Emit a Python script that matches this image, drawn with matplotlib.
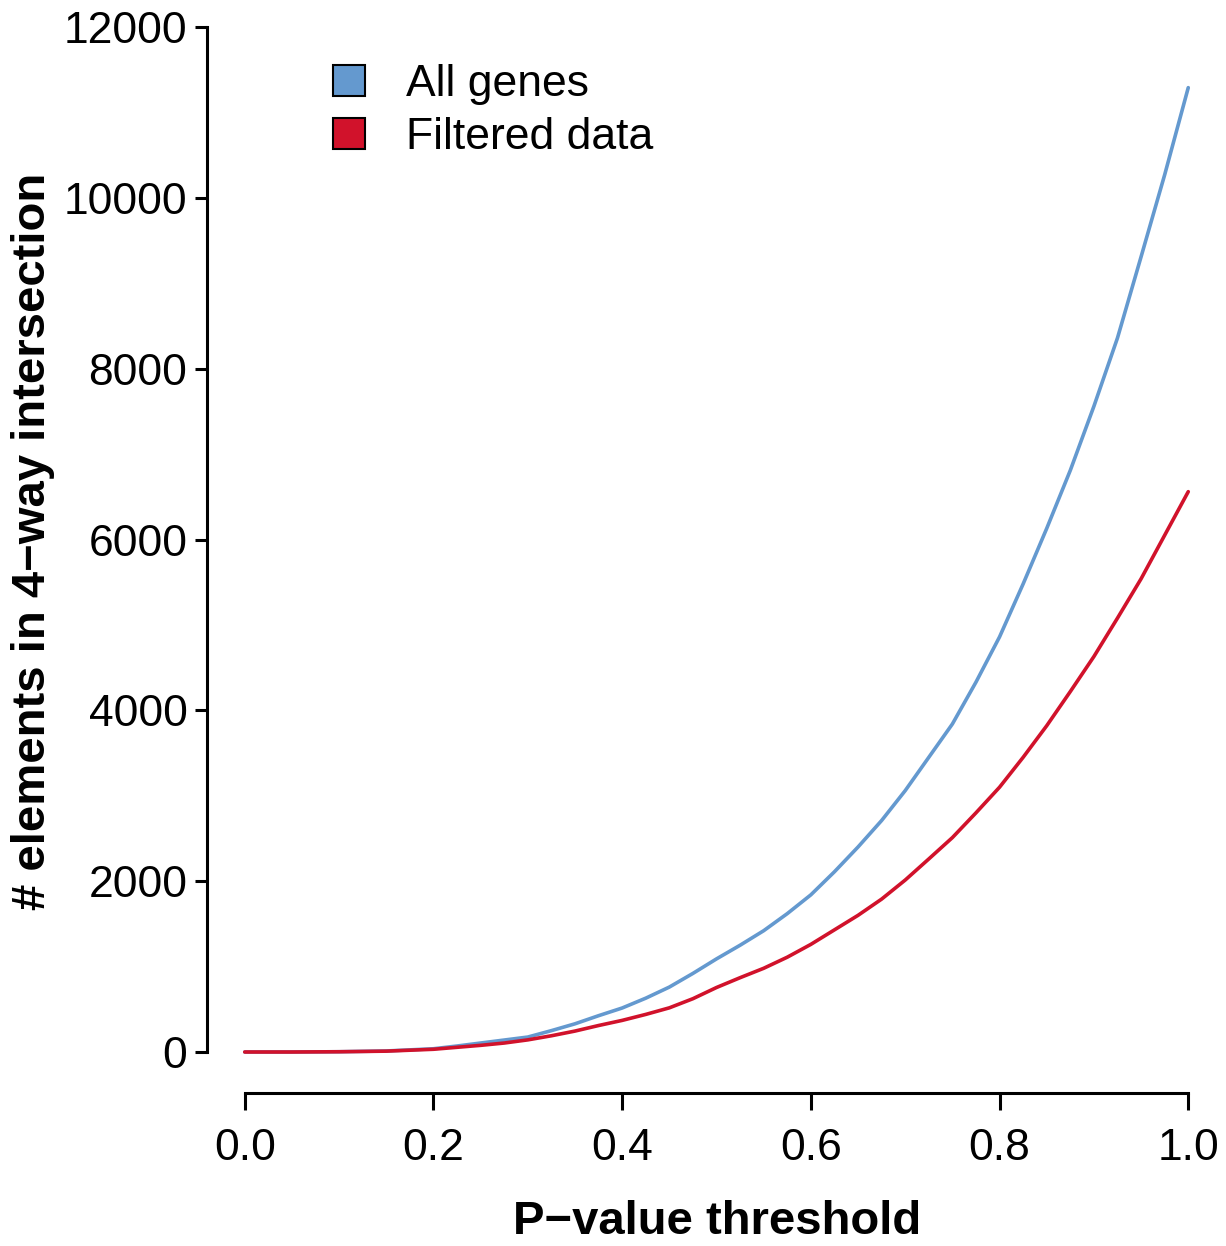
import matplotlib.pyplot as plt
from matplotlib.patches import Patch
import numpy as np

# P-value thresholds (x) and intersection sizes
p_threshold = [0.00, 0.05, 0.10, 0.15, 0.20, 0.225, 0.25, 0.275, 0.30, 0.325, 0.35,
               0.375, 0.40, 0.425, 0.45, 0.475, 0.50, 0.525, 0.55, 0.575, 0.60,
               0.625, 0.65, 0.675, 0.70, 0.725, 0.75, 0.775, 0.80, 0.825, 0.85,
               0.875, 0.90, 0.925, 0.95, 0.975, 1.00]
all_genes = [0, 0, 3, 12, 38, 70, 105, 140, 175, 250, 330,
             425, 515, 630, 760, 920, 1090, 1250, 1420, 1620, 1840,
             2110, 2400, 2710, 3060, 3450, 3840, 4330, 4860, 5480, 6130,
             6810, 7560, 8360, 9310, 10270, 11290]
filtered_data = [0, 0, 3, 10, 32, 55, 78, 105, 142, 190, 245,
                 310, 370, 440, 517, 624, 755, 870, 980, 1110, 1260,
                 1430, 1600, 1790, 2013, 2260, 2510, 2800, 3100, 3450, 3820,
                 4220, 4630, 5080, 5540, 6050, 6560]

series_names = ['All genes', 'Filtered data']
series_colors = ['#6499CF', '#D1122B']

x_ticks = [0.0, 0.2, 0.4, 0.6, 0.8, 1.0]
y_ticks = [0, 2000, 4000, 6000, 8000, 10000, 12000]

plt.rcParams['font.family'] = ['Liberation Sans', 'DejaVu Sans']

W, H, DPI = 1226, 1246, 100


def px_box(left, top, right, bottom):
    """Pixel box (from the top-left corner) to a figure-fraction rect"""
    return [left / W, 1 - bottom / H, (right - left) / W, (bottom - top) / H]


fig = plt.figure(figsize=(W / DPI, H / DPI), dpi=DPI)
ax = fig.add_axes(px_box(207, 27, 1226, 1093))

ax.set_xlim(-0.04, 1.04)
ax.set_ylim(-480, 12000)

for values, color in zip([all_genes, filtered_data], series_colors):
    ax.plot(p_threshold, values, color=color, linewidth=2.6, solid_capstyle='round',
            solid_joinstyle='round', clip_on=False)

# R-style detached axes
for side in ['top', 'right']:
    ax.spines[side].set_visible(False)
ax.spines['left'].set_bounds(0, 12000)
ax.spines['bottom'].set_bounds(0, 1)
ax.spines['left'].set_linewidth(2.2)
ax.spines['bottom'].set_linewidth(2.2)

ax.set_xticks(x_ticks)
ax.set_xticklabels([f'{t:.1f}' for t in x_ticks])
ax.set_yticks(y_ticks)
ax.set_yticklabels([str(t) for t in y_ticks])
ax.tick_params(axis='x', length=12, width=2.2, labelsize=32, pad=13)
ax.tick_params(axis='y', length=8.6, width=2.2, labelsize=32, pad=5.5)

fig.text(717 / W, 1 - 1222 / H, 'P\u2212value threshold', fontsize=34, fontweight='bold',
         ha='center', va='center')
fig.text(33 / W, 1 - 541 / H, '# elements in 4\u2212way intersection', fontsize=34,
         fontweight='bold', rotation=90, ha='center', va='center')

handles = [Patch(facecolor=c, edgecolor='black', linewidth=1.5) for c in series_colors]
ax.legend(handles, series_names, loc='upper left', bbox_to_anchor=(333 / W, 1 - 64 / H),
          bbox_transform=fig.transFigure, frameon=False, fontsize=32,
          handlelength=0.72, handleheight=0.72, handletextpad=0.92,
          labelspacing=0.27, borderpad=0, borderaxespad=0)

fig.savefig('out.png', dpi=DPI)
